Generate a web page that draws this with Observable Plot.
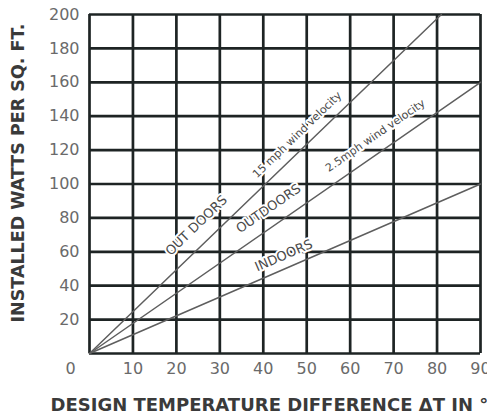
<!DOCTYPE html>
<html>
<head>
<meta charset="utf-8">
<script src="https://cdn.jsdelivr.net/npm/d3@7"></script>
<script src="https://cdn.jsdelivr.net/npm/@observablehq/plot@0.6"></script>
<style>
  html, body { margin: 0; padding: 0; background: #fff; overflow: hidden; }
  #chart { width: 487px; height: 419px; overflow: hidden; }
  #chart g[aria-label="tick-label"] text { letter-spacing: 1.6px; }
  #chart g[aria-label="line-label-big"] text { letter-spacing: 1.8px; }
  #chart g[aria-label="line-label-small"] text { letter-spacing: 1.3px; }
  #chart g[aria-label="axis-title"] text { letter-spacing: 0.7px; }
</style>
</head>
<body>
<div id="chart"></div>
<script>
// Data
const xTicks = [10, 20, 30, 40, 50, 60, 70, 80, 90];
const yTicks = [20, 40, 60, 80, 100, 120, 140, 160, 180, 200];
const gridX = [0, 10, 20, 30, 40, 50, 60, 70, 80, 90];
const gridY = [0, 20, 40, 60, 80, 100, 120, 140, 160, 180, 200];

const seriesNames = ["OUTDOORS 15 mph", "OUTDOORS 2.5 mph", "INDOORS"];
const seriesDeltaT = [[0, 81], [0, 90], [0, 90]];
const seriesWatts = [[0, 200], [0, 160], [0, 100]];

// label texts and where their centres sit (in data units)
const bigLabels = ["OUT DOORS", "OUTDOORS", "INDOORS"];
const bigDeltaT = [24.6, 41.2, 44.7];
const bigWatts = [75.5, 85.5, 57.8];
const bigRotate = [-44, -34.8, -23.5];
const smallLabels = ["15 mph wind velocity", "2.5mph wind velocity"];
const smallDeltaT = [47.8, 65.8];
const smallWatts = [129, 128.6];
const smallRotate = [-44, -34.8];

const lineRows = [];
seriesNames.forEach((name, i) => {
  seriesDeltaT[i].forEach((x, j) => lineRows.push({series: name, x, y: seriesWatts[i][j]}));
});
const bigRows = bigLabels.map((t, i) => ({text: t, x: bigDeltaT[i], y: bigWatts[i], r: bigRotate[i]}));
const smallRows = smallLabels.map((t, i) => ({text: t, x: smallDeltaT[i], y: smallWatts[i], r: smallRotate[i]}));

const gridColor = "#1e2424";
const tickFont = "DejaVu Sans, Verdana, sans-serif";
const marks = [
  Plot.ruleX(gridX, {stroke: gridColor, strokeWidth: 2.7}),
  Plot.ruleY(gridY, {stroke: gridColor, strokeWidth: 2.7}),
  Plot.line(lineRows, {x: "x", y: "y", z: "series", stroke: "#5e5e5e", strokeWidth: 1.5}),
  Plot.axisX(xTicks, {tickSize: 0, tickPadding: 9, fontSize: 16, fill: "#6a6a6a", label: null, fontFamily: tickFont, ariaLabel: "tick-label"}),
  Plot.axisY(yTicks, {tickSize: 0, tickPadding: 10, fontSize: 16, fill: "#6a6a6a", label: null, fontFamily: tickFont, ariaLabel: "tick-label"}),
  Plot.text([0], {x: 0, y: 0, text: () => "0", dx: -19, dy: 15, fontSize: 16, fill: "#6a6a6a", fontFamily: tickFont, ariaLabel: "tick-label"}),
  Plot.text(["INSTALLED WATTS PER SQ. FT."], {
    frameAnchor: "left", textAnchor: "middle", rotate: -90, dx: -71, dy: -11, fontSize: 17.5, fontWeight: "bold",
    fill: "#3a3a3a", text: d => d, fontFamily: tickFont, ariaLabel: "axis-title"
  }),
  Plot.text(["DESIGN TEMPERATURE DIFFERENCE \u0394T IN \u00B0F"], {
    frameAnchor: "bottom", textAnchor: "start", dx: 50 - 284.5, dy: 57, fontSize: 18,
    fontWeight: "bold", fill: "#3a3a3a", text: d => d, fontFamily: tickFont, ariaLabel: "axis-title"
  })
];
bigRows.forEach(r => {
  marks.push(Plot.text([r], {
    x: "x", y: "y", text: "text", rotate: r.r,
    fontSize: 13, fill: "#4a4a4a", stroke: "white", strokeWidth: 4,
    fontFamily: tickFont, ariaLabel: "line-label-big"
  }));
});
smallRows.forEach(r => {
  marks.push(Plot.text([r], {
    x: "x", y: "y", text: "text", rotate: r.r,
    fontSize: 11, fill: "#4a4a4a", stroke: "white", strokeWidth: 4,
    fontFamily: tickFont, ariaLabel: "line-label-small"
  }));
});

const chart = Plot.plot({
  width: 487,
  height: 419,
  marginLeft: 89,
  marginRight: 7,
  marginTop: 14,
  marginBottom: 66,
  style: {fontFamily: tickFont, background: "white", overflow: "hidden"},
  x: {domain: [0, 90], axis: null},
  y: {domain: [0, 200], axis: null},
  marks
});
document.getElementById("chart").appendChild(chart);
</script>
</body>
</html>
